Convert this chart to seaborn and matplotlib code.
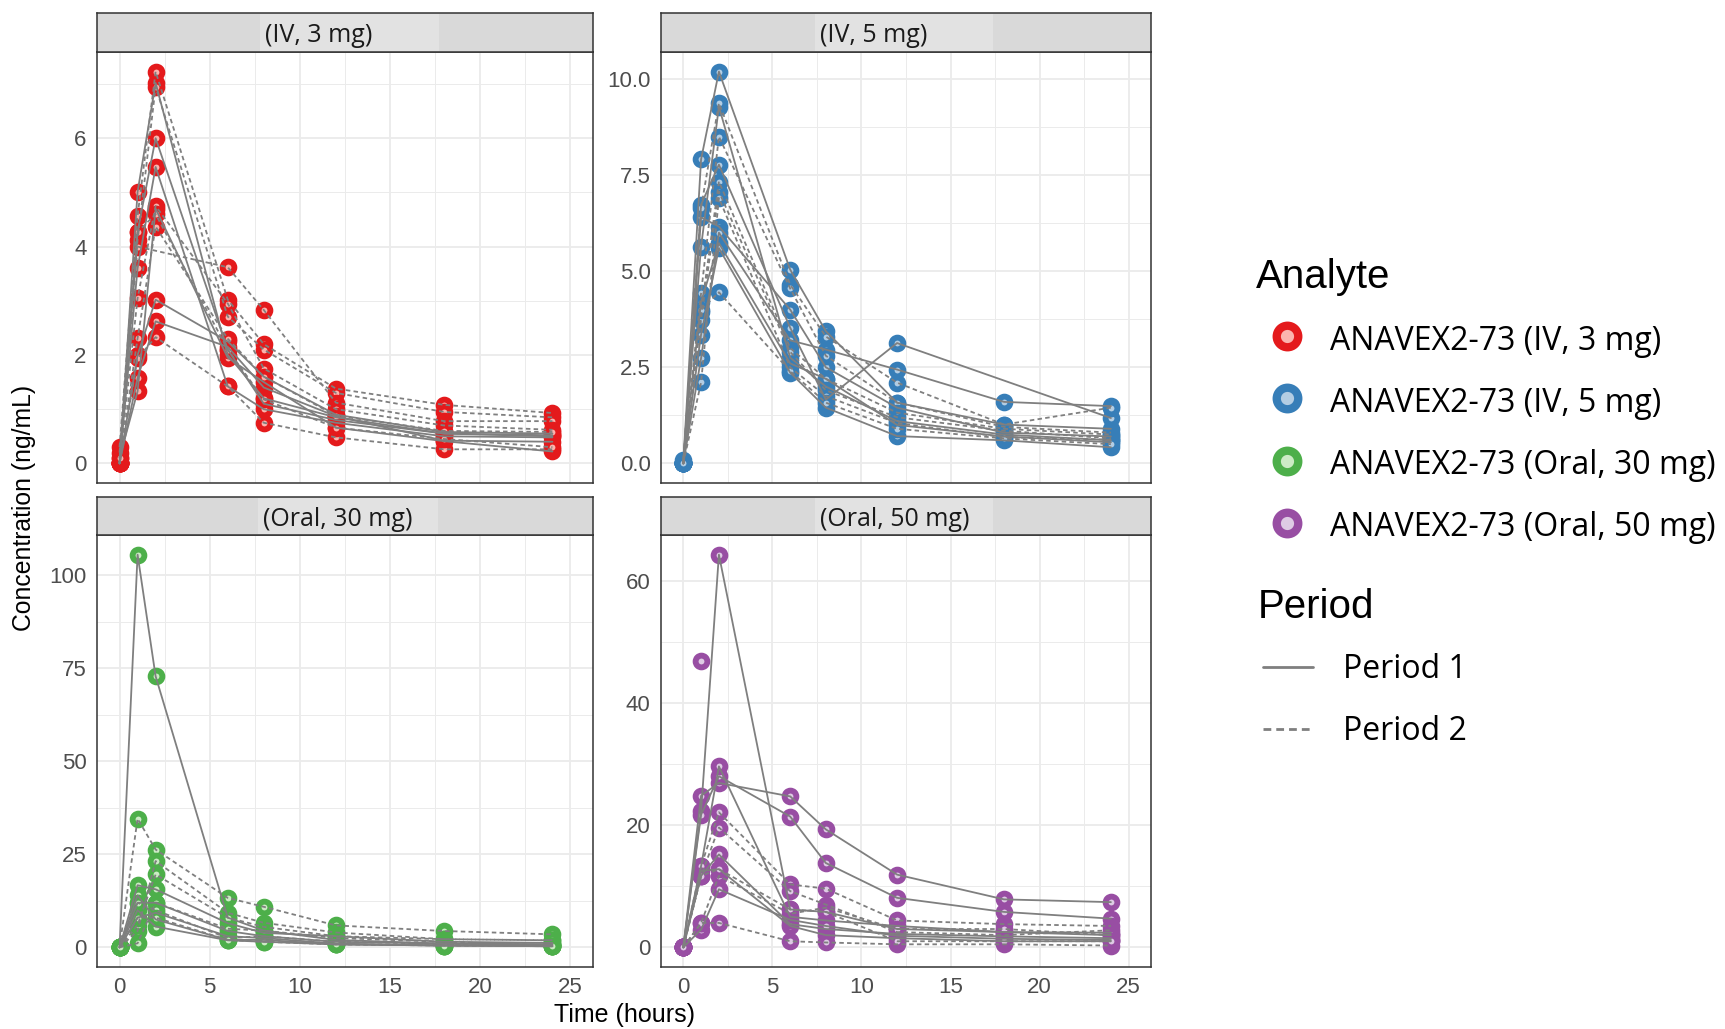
import numpy as np
import pandas as pd
import matplotlib
matplotlib.use("Agg")
import matplotlib.pyplot as plt
import seaborn as sns
from matplotlib.lines import Line2D
from matplotlib.patches import Rectangle
from matplotlib.ticker import FixedLocator

sns.set_theme(style="white")
plt.rcParams["font.family"] = ["Open Sans", "DejaVu Sans"]

nan = np.nan
TIMES = [0, 1, 2, 6, 8, 12, 18, 24]

PANELS = ["(IV, 3 mg)", "(IV, 5 mg)", "(Oral, 30 mg)", "(Oral, 50 mg)"]
ANALYTES = ["ANAVEX2-73 (IV, 3 mg)", "ANAVEX2-73 (IV, 5 mg)",
            "ANAVEX2-73 (Oral, 30 mg)", "ANAVEX2-73 (Oral, 50 mg)"]
PERIODS = ["Period 1", "Period 2"]

# concentration profiles (ng/mL) at TIMES, one list per subject
iv3_period1 = [
    [0.0, 5.01, 7.02, 2.00, 1.20, 0.85, 0.55, 0.50],
    [0.0, 4.27, 6.00, 2.10, 1.10, 0.80, 0.55, 0.52],
    [0.0, 3.60, 5.47, 1.42, 1.00, 0.75, 0.50, 0.48],
    [0.0, 2.00, 3.02, 2.25, 1.60, 0.90, 0.58, 0.55],
    [0.0, 1.58, 2.62, 2.15, 1.40, 0.87, 0.42, 0.40],
    [0.1, 1.33, 4.70, 1.95, 1.50, 0.66, 0.41, 0.22],
]
iv3_period2 = [
    [0.3, 4.57, 7.23, 3.02, 2.20, 1.38, 1.08, 0.93],
    [0.2, 4.12, 6.95, 2.71, 2.10, 1.30, 0.95, 0.85],
    [0.0, 4.00, nan, 3.62, 2.83, 1.12, 0.78, 0.78],
    [0.0, 3.05, 4.75, 2.95, 1.75, 1.00, 0.70, 0.62],
    [0.0, 2.31, 4.37, 2.30, 1.60, 0.88, 0.60, 0.58],
    [0.0, 1.94, 2.33, 1.42, 0.75, 0.48, 0.26, 0.26],
    [0.1, 4.27, 4.60, 2.10, 1.18, 0.66, 0.45, 0.30],
]
iv5_period1 = [
    [0.0, 7.91, 10.19, 5.04, 3.44, 1.58, 1.01, 0.90],
    [0.0, 6.73, 7.77, 3.53, 1.66, 3.13, nan, 1.18],
    [0.0, 6.40, 6.16, 4.00, 2.50, 1.45, 0.80, 0.70],
    [0.0, 5.64, 9.28, 2.75, 2.00, 1.10, 0.75, 0.60],
    [0.0, 4.20, 5.73, 2.60, 2.20, 1.00, 0.70, 0.55],
    [0.0, 3.35, 5.60, 2.36, 1.45, 0.71, 0.60, 0.42],
    [0.0, 2.74, 6.00, 3.20, 2.96, 2.44, 1.60, 1.49],
]
iv5_period2 = [
    [0.0, 6.65, 9.37, 4.65, 3.30, 2.10, 1.01, 1.45],
    [0.1, 4.43, 8.50, 4.55, 2.80, 1.58, 0.95, 0.80],
    [0.0, 3.95, 7.33, 3.00, 2.20, 1.32, 0.90, 0.75],
    [0.0, 3.74, 7.07, 2.90, 1.90, 1.20, 0.85, 0.65],
    [0.0, 2.11, 6.90, 2.50, 1.75, 1.05, 0.68, 0.62],
    [0.0, 4.00, 4.45, 2.40, 1.58, 0.90, 0.65, 0.50],
]
oral30_period1 = [
    [0.0, 105.6, 72.9, 8.0, 4.5, 2.0, 1.0, 0.8],
    [0.0, 16.7, 15.6, 6.5, 3.9, 3.0, 1.5, 1.2],
    [0.0, 12.0, 12.0, 4.4, 3.0, 1.5, 1.0, 0.8],
    [0.0, 8.0, 9.3, 3.0, 2.5, 1.0, 0.5, 0.5],
    [0.0, 14.0, 7.5, 2.0, 2.0, 0.8, 0.5, 0.3],
    [0.0, 10.0, 5.6, 1.9, 1.5, 0.8, 0.5, 0.3],
]
oral30_period2 = [
    [0.0, 34.6, 26.3, 13.3, 10.9, 5.9, 4.4, 3.5],
    [0.0, 4.4, 23.2, 9.3, 6.6, 4.0, 2.2, 1.9],
    [0.0, 6.0, 19.6, 8.0, 5.5, 3.0, 2.2, 1.9],
    [0.0, 1.1, 12.0, 5.0, 4.5, 2.5, 1.5, 0.5],
    [0.0, 12.0, 10.0, 2.5, 3.0, 1.5, 1.0, 0.5],
    [0.0, 8.0, 8.0, 2.0, 1.5, 0.8, 0.5, 0.3],
]
oral50_period1 = [
    [0.0, 22.3, 64.25, 6.2, 5.8, 3.0, 2.5, 2.4],
    [0.0, 24.8, 26.9, 24.7, 19.3, 11.9, 7.85, 7.4],
    [0.0, 21.7, 28.0, 21.4, 13.8, 8.1, 5.8, 4.7],
    [0.0, 13.3, 29.6, 5.0, 4.4, 3.5, 2.5, 2.0],
    [0.0, 11.7, 15.2, 3.8, 3.0, 2.2, 1.8, 1.5],
    [0.0, 12.5, 12.8, 3.5, 2.0, 1.5, 1.0, 1.0],
    [0.0, 2.9, 9.5, 4.5, 3.5, 1.9, 1.4, 1.2],
]
oral50_period2 = [
    [0.0, 13.3, 22.1, 10.3, 9.6, 4.4, 3.8, 3.5],
    [0.0, 11.7, 19.6, 9.2, 7.0, 2.5, 2.0, 2.8],
    [0.0, 4.0, 11.7, 5.5, 6.5, 3.0, 3.0, 2.0],
    [0.0, 4.0, 4.0, 1.0, 0.8, 0.5, 0.5, 0.3],
    [0.0, 11.7, 12.8, 6.2, 5.8, 1.0, 1.0, 1.0],
    [nan, 46.8, nan, nan, nan, nan, nan, nan],
]

Y_TICKS = [[0, 2, 4, 6], [0, 2.5, 5, 7.5, 10], [0, 25, 50, 75, 100], [0, 20, 40, 60]]
Y_TICKLABELS = [["0", "2", "4", "6"], ["0.0", "2.5", "5.0", "7.5", "10.0"],
                ["0", "25", "50", "75", "100"], ["0", "20", "40", "60"]]
X_TICKS = [0, 5, 10, 15, 20, 25]

COLORS = ["#E41A1C", "#377EB8", "#4DAF4A", "#984EA3"]
FILLS = ["#FBB4AE", "#B3CDE3", "#CCEBC5", "#DECBE4"]
LINE_GRAY = "#7F7F7F"

profiles = [(iv3_period1, iv3_period2), (iv5_period1, iv5_period2),
            (oral30_period1, oral30_period2), (oral50_period1, oral50_period2)]

rows = []
for pi, (p1, p2) in enumerate(profiles):
    for per, subj_list in zip(PERIODS, (p1, p2)):
        for si, prof in enumerate(subj_list):
            for t, c in zip(TIMES, prof):
                rows.append(dict(panel=PANELS[pi], subject=f"{pi}-{per}-{si}",
                                 period=per, time=t, conc=c))
df = pd.DataFrame(rows)

W, H = 1725, 1029
fig = plt.figure(figsize=(W / 100, H / 100), dpi=100)

SANS = ["Liberation Sans", "DejaVu Sans"]

# panel boxes in pixels: (left, top, right, bottom), strip top
boxes = [(97, 52, 593, 483), (661, 52, 1151, 483),
         (97, 535, 593, 967), (661, 535, 1151, 967)]
strip_tops = [13, 13, 497, 497]
hl_rects = [(0.329, 0.361), (0.314, 0.364), (0.325, 0.363), (0.314, 0.364)]
txt_left = [0.339, 0.324, 0.335, 0.324]

for i, panel in enumerate(PANELS):
    l, t, r, b = boxes[i]
    ax = fig.add_axes([l / W, 1 - b / H, (r - l) / W, (b - t) / H])
    sub = df[df.panel == panel]
    sns.scatterplot(data=sub.dropna(), x="time", y="conc", ax=ax,
                    color=FILLS[i], edgecolor=COLORS[i], linewidth=4.2,
                    s=72, legend=False, zorder=2)
    sns.lineplot(data=sub, x="time", y="conc", units="subject", estimator=None,
                 style="period", style_order=PERIODS,
                 dashes={"Period 1": "", "Period 2": (2.5, 1.8)},
                 color=LINE_GRAY, linewidth=1.3, ax=ax, legend=False, zorder=3)
    vals = sub.conc.dropna()
    lo, hi = vals.min(), vals.max()
    pad = 0.05 * (hi - lo)
    ax.set_ylim(lo - pad, hi + pad)
    ax.set_xlim(-1.25, 26.25)
    ax.set_xlabel("")
    ax.set_ylabel("")
    yt = Y_TICKS[i]
    ax.yaxis.set_major_locator(FixedLocator(yt))
    ax.set_yticklabels(Y_TICKLABELS[i])
    step = yt[1] - yt[0]
    ax.yaxis.set_minor_locator(FixedLocator([v + step / 2 for v in [yt[0] - step] + yt]))
    ax.xaxis.set_major_locator(FixedLocator(X_TICKS))
    ax.xaxis.set_minor_locator(FixedLocator([v + 2.5 for v in [-5] + X_TICKS]))
    ax.set_xticklabels([str(v) for v in X_TICKS])
    ax.grid(which="major", color="#EBEBEB", linewidth=1.3)
    ax.grid(which="minor", color="#EBEBEB", linewidth=0.7)
    ax.set_axisbelow(True)
    for sp in ax.spines.values():
        sp.set_color("#333333")
        sp.set_linewidth(1.1)
    ax.tick_params(which="major", length=4.5, width=1.0, color="#333333",
                   labelsize=16, labelcolor="#4D4D4D", pad=3)
    ax.tick_params(which="minor", length=0)
    for lab in ax.get_xticklabels() + ax.get_yticklabels():
        lab.set_fontfamily(SANS)
    if i < 2:
        ax.tick_params(axis="x", which="major", length=0, labelbottom=False)

    # strip
    st = strip_tops[i]
    sax = fig.add_axes([l / W, 1 - t / H, (r - l) / W, (t - st) / H])
    sax.set_facecolor("#D9D9D9")
    sax.set_xticks([])
    sax.set_yticks([])
    for sp in sax.spines.values():
        sp.set_color("#333333")
        sp.set_linewidth(1.1)
    x0, w0 = hl_rects[i]
    sax.add_patch(Rectangle((x0, 0.03), w0, 0.94, transform=sax.transAxes,
                            facecolor="#E2E2E2", edgecolor="none"))
    sax.text(txt_left[i], 0.42, panel, transform=sax.transAxes, ha="left",
             va="center", fontsize=18, color="#1A1A1A")

fig.text(24 / W, 1 - 508 / H, "Concentration (ng/mL)", rotation=90,
         ha="center", va="center", fontsize=17.8, color="black", family=SANS)
fig.text(625 / W, 1 - 1015 / H, "Time (hours)", ha="center", va="center",
         fontsize=18, color="black", family=SANS)

# legend
lax = fig.add_axes([0, 0, 1, 1])
lax.set_xlim(0, W)
lax.set_ylim(H, 0)
lax.axis("off")
lax.text(1256, 277, "Analyte", ha="left", va="center", fontsize=29,
         family=SANS, color="black")
for k, lab in enumerate(ANALYTES):
    y = [336, 398, 461, 523][k]
    lax.plot([1287], [y], marker="o", ms=15.5, mew=6.0, mfc=FILLS[k],
             mec=COLORS[k], ls="none")
    lax.text(1330, y + 5, lab, ha="left", va="center", fontsize=23, color="black")
lax.text(1258, 607, "Period", ha="left", va="center", fontsize=29,
         family=SANS, color="black")
for k, lab in enumerate(PERIODS):
    y = [667, 729][k]
    ls = "-" if k == 0 else (0, (2.8, 1.8))
    lax.add_line(Line2D([1263, 1313], [y, y], color=LINE_GRAY, lw=2.0, linestyle=ls))
    lax.text(1343, y + 2, lab, ha="left", va="center", fontsize=23, color="black")

fig.savefig("out.png", dpi=100)
